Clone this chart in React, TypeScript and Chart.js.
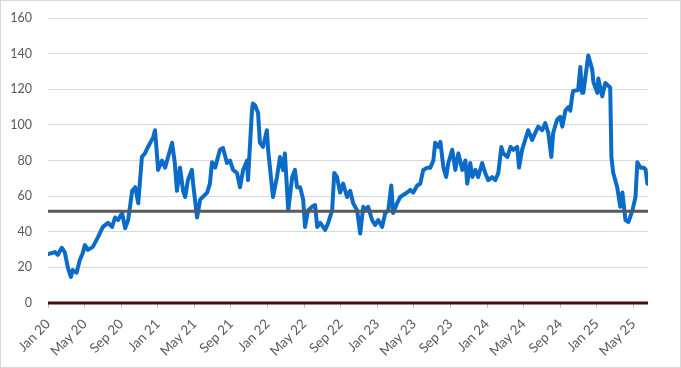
import React, { useEffect, useRef } from "react";
import { Chart, registerables } from "chart.js";

Chart.register(...registerables);

const dates: string[] = [
  "2020-01-01", "2020-01-24", "2020-02-03", "2020-02-16", "2020-02-26", "2020-03-06", "2020-03-16", "2020-03-22",
  "2020-04-05", "2020-04-15", "2020-04-25", "2020-05-02", "2020-05-12", "2020-05-28", "2020-06-15", "2020-07-01",
  "2020-07-18", "2020-08-01", "2020-08-11", "2020-08-21", "2020-09-04", "2020-09-14", "2020-09-24", "2020-10-07",
  "2020-10-17", "2020-10-27", "2020-11-09", "2020-11-19", "2020-11-29", "2020-12-16", "2020-12-22", "2020-12-29",
  "2021-01-02", "2021-01-15", "2021-01-25", "2021-02-05", "2021-02-18", "2021-02-27", "2021-03-04", "2021-03-14",
  "2021-03-24", "2021-03-31", "2021-04-10", "2021-04-23", "2021-04-27", "2021-05-10", "2021-05-20", "2021-06-13",
  "2021-06-22", "2021-06-29", "2021-07-09", "2021-07-25", "2021-08-05", "2021-08-18", "2021-08-28", "2021-09-08",
  "2021-09-21", "2021-10-01", "2021-10-11", "2021-10-24", "2021-10-27", "2021-11-10", "2021-11-13", "2021-11-20",
  "2021-11-30", "2021-12-06", "2021-12-16", "2021-12-29", "2022-01-03", "2022-01-09", "2022-01-19", "2022-02-02",
  "2022-02-12", "2022-02-22", "2022-02-28", "2022-03-09", "2022-03-22", "2022-04-01", "2022-04-08", "2022-04-18",
  "2022-04-28", "2022-05-04", "2022-05-14", "2022-05-27", "2022-06-07", "2022-06-14", "2022-06-24", "2022-07-10",
  "2022-07-20", "2022-08-03", "2022-08-10", "2022-08-19", "2022-08-29", "2022-09-09", "2022-09-22", "2022-10-02",
  "2022-10-12", "2022-10-25", "2022-11-05", "2022-11-15", "2022-11-21", "2022-12-01", "2022-12-14", "2022-12-24",
  "2023-01-04", "2023-01-17", "2023-01-27", "2023-02-07", "2023-02-17", "2023-02-23", "2023-03-06", "2023-03-16",
  "2023-04-09", "2023-04-19", "2023-04-29", "2023-05-12", "2023-05-22", "2023-06-02", "2023-06-15", "2023-06-25",
  "2023-07-05", "2023-07-11", "2023-07-21", "2023-07-28", "2023-08-08", "2023-08-17", "2023-08-24", "2023-09-07",
  "2023-09-17", "2023-09-27", "2023-10-10", "2023-10-20", "2023-10-26", "2023-11-06", "2023-11-13", "2023-11-23",
  "2023-12-02", "2023-12-15", "2023-12-25", "2024-01-05", "2024-01-18", "2024-01-28", "2024-02-08", "2024-02-18",
  "2024-02-24", "2024-03-08", "2024-03-18", "2024-03-27", "2024-04-10", "2024-04-16", "2024-04-26", "2024-05-06",
  "2024-05-16", "2024-05-29", "2024-06-09", "2024-06-19", "2024-07-02", "2024-07-12", "2024-07-22", "2024-08-02",
  "2024-08-08", "2024-08-21", "2024-09-01", "2024-09-08", "2024-09-18", "2024-09-28", "2024-10-04", "2024-10-11",
  "2024-10-14", "2024-10-30", "2024-11-07", "2024-11-13", "2024-11-17", "2024-12-03", "2024-12-16", "2024-12-20",
  "2025-01-03", "2025-01-06", "2025-01-19", "2025-01-29", "2025-02-15", "2025-02-19", "2025-02-25", "2025-03-08",
  "2025-03-18", "2025-03-25", "2025-04-05", "2025-04-15", "2025-04-28", "2025-05-08", "2025-05-14", "2025-05-24",
  "2025-06-04", "2025-06-11", "2025-06-17",
];

const values: number[] = [
  27.5, 28.6, 27, 31, 28.6, 20, 14.6, 18.5,
  17, 24, 28, 32.5, 29.8, 31.5, 37, 42.7,
  45, 42.7, 48, 46.6, 50.5, 42, 46.6, 63,
  65, 56, 82, 84, 87.6, 93, 97, 82,
  74.7, 80, 76, 82, 90, 78.6, 63, 76,
  63, 59.5, 69, 74.7, 67, 48, 58, 62,
  67, 79, 76, 86, 87, 78.6, 80, 74.7,
  73, 65, 74.7, 80, 69, 108, 112, 111,
  106.7, 90, 87.6, 97, 86, 76, 59.5, 70.7,
  82, 74.7, 84, 52, 70.7, 74.7, 65, 65,
  58, 42.7, 52, 54, 55, 42.7, 45, 41,
  45, 52, 73, 70.7, 62, 67, 59.5, 63,
  56, 52, 39, 54, 52, 54, 46.6, 43.8,
  46.6, 42.7, 50.5, 52, 66, 50.5, 56, 59.5,
  62, 63.5, 62, 66, 67, 74.7, 76, 76,
  80, 90, 87.6, 90.5, 76, 70.7, 78.6, 86,
  74.7, 84, 74.7, 80, 67, 78.6, 70.7, 74.7,
  70.7, 78.6, 73, 69, 70.7, 69, 73, 87.6,
  84, 82, 87.6, 86, 87.6, 76, 86, 91.5,
  97, 91.5, 95.5, 99, 97, 101, 95.5, 82,
  95.5, 103, 104.5, 99, 108, 110, 108, 117,
  119, 119.6, 132.5, 118, 118, 139, 131, 124,
  118, 126, 116, 123.5, 121, 82, 73, 65,
  54, 62, 46.6, 45.5, 52, 59.5, 79, 76,
  76, 75, 67,
];

const thresholdValue = 51.5;
const baselineValue = 0;
const tickMonths: number[] = [0, 4, 8, 12, 16, 20, 24, 28, 32, 36, 40, 44, 48, 52, 56, 60, 64];
const monthNames: string[] = ["Jan", "Feb", "Mar", "Apr", "May", "Jun", "Jul", "Aug", "Sep", "Oct", "Nov", "Dec"];
const yTicks: number[] = [0, 20, 40, 60, 80, 100, 120, 140, 160];

const X_MAX = 65.6;

function toMonthIndex(d: string): number {
  const [y, m, day] = d.split("-").map(Number);
  return (y - 2020) * 12 + (m - 1) + (day - 1) / 30;
}

function monthLabel(m: number): string {
  const idx = Math.round(m);
  return monthNames[idx % 12] + " " + String(20 + Math.floor(idx / 12));
}

export default function App() {
  const canvasRef = useRef<HTMLCanvasElement | null>(null);

  useEffect(() => {
    document.body.style.margin = "0";
    const canvas = canvasRef.current;
    if (!canvas) return;

    const seriesPoints = dates.map((d, i) => ({ x: toMonthIndex(d), y: values[i] }));

    const chart = new Chart(canvas, {
      type: "line",
      data: {
        datasets: [
          {
            label: "threshold",
            data: [
              { x: 0, y: thresholdValue },
              { x: X_MAX, y: thresholdValue },
            ],
            borderColor: "#595959",
            borderWidth: 3,
            pointRadius: 0,
            order: 0,
          },
          {
            label: "baseline",
            data: [
              { x: 0, y: baselineValue },
              { x: X_MAX, y: baselineValue },
            ],
            borderColor: "#4a0c0c",
            borderWidth: 3,
            pointRadius: 0,
            clip: 4,
            order: 0,
          },
          {
            label: "series",
            data: seriesPoints,
            borderColor: "#0b6bc8",
            borderWidth: 4,
            pointRadius: 0,
            tension: 0,
            borderJoinStyle: "round",
            borderCapStyle: "round",
            order: 2,
          },
        ],
      },
      options: {
        animation: false,
        responsive: true,
        maintainAspectRatio: false,
        layout: { padding: { top: 17, right: 32, left: 0, bottom: 0 } },
        plugins: {
          legend: { display: false },
          tooltip: { enabled: false },
        },
        scales: {
          x: {
            type: "linear",
            min: 0,
            max: X_MAX,
            afterBuildTicks: (scale: any) => {
              scale.ticks = tickMonths.map((v) => ({ value: v }));
            },
            afterFit: (scale: any) => {
              scale.height = 64;
            },
            border: { display: false },
            grid: {
              drawOnChartArea: false,
              drawTicks: true,
              tickLength: 5,
              color: "#bfbfbf",
            },
            ticks: {
              autoSkip: false,
              minRotation: 45,
              maxRotation: 45,
              padding: 8,
              color: "#595959",
              font: { family: "Lato", size: 13.5 },
              callback: (v: any) => monthLabel(Number(v)),
            },
          },
          y: {
            type: "linear",
            min: 0,
            max: 160,
            afterBuildTicks: (scale: any) => {
              scale.ticks = yTicks.map((v) => ({ value: v }));
            },
            afterFit: (scale: any) => {
              scale.width = 47;
            },
            border: { display: false },
            grid: {
              drawTicks: true,
              tickLength: 16,
              tickColor: "rgba(0,0,0,0)",
              color: "#d9d9d9",
              lineWidth: 1,
            },
            ticks: {
              padding: 0,
              color: "#595959",
              font: { family: "Lato", size: 12.5 },
            },
          },
        },
      },
    });

    return () => {
      chart.destroy();
    };
  }, []);

  return (
    <div
      style={{
        width: 681,
        height: 368,
        boxSizing: "border-box",
        border: "1px solid #d9d9d9",
        position: "relative",
        background: "#ffffff",
      }}
    >
      <canvas ref={canvasRef} />
    </div>
  );
}
